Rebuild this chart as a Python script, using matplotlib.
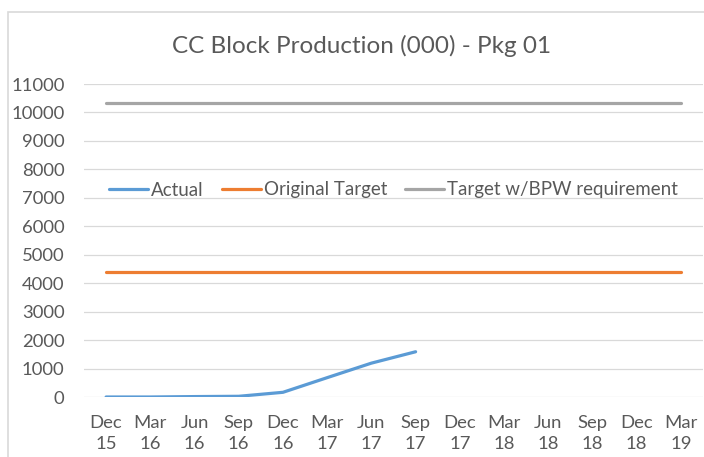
import matplotlib.pyplot as plt
from matplotlib.patches import Rectangle

quarters = ["Dec\n15", "Mar\n16", "Jun\n16", "Sep\n16", "Dec\n16", "Mar\n17", "Jun\n17",
            "Sep\n17", "Dec\n17", "Mar\n18", "Jun\n18", "Sep\n18", "Dec\n18", "Mar\n19"]
actual = [0, 0, 15, 25, 165, 680, 1190, 1590]
original_target = [4400] * len(quarters)
bpw_target = [10330] * len(quarters)

TEXT = "#595959"
GRID = "#D9D9D9"

plt.rcParams["font.family"] = ["Lato", "DejaVu Sans"]

fig = plt.figure(figsize=(7.04, 4.57), dpi=100)
ax = fig.add_axes([84 / 704, 1 - 397 / 457, (703 - 84) / 704, (397 - 84) / 457])

x = list(range(len(quarters)))
ax.plot(x[:len(actual)], actual, color="#5B9BD5", lw=2.3, label="Actual",
        solid_capstyle="round")
ax.plot(x, original_target, color="#ED7D31", lw=2.3, label="Original Target",
        solid_capstyle="round")
ax.plot(x, bpw_target, color="#A5A5A5", lw=2.3, label="Target w/BPW requirement",
        solid_capstyle="round")

ax.set_xlim(-0.5, len(quarters) - 0.5)
ax.set_ylim(0, 11000)
ax.set_yticks(range(0, 11001, 1000))
ax.set_xticks(x)
ax.set_xticklabels(quarters, linespacing=1.4)
ax.yaxis.grid(True, color=GRID, lw=0.9)
ax.set_axisbelow(True)
for s in ax.spines.values():
    s.set_visible(False)
ax.tick_params(length=0, colors=TEXT, labelsize=13.3)
ax.tick_params(axis="x", pad=13)
ax.tick_params(axis="y", pad=14)

leg = ax.legend(loc="center", bbox_to_anchor=(0.5, 1 - (190 - 84) / (397 - 84)),
                ncol=3, frameon=False, fontsize=13.5, handlelength=2.1,
                handletextpad=0.15, columnspacing=0.95, labelcolor=TEXT)

fig.text(362 / 704, 1 - 46 / 457, "CC Block Production (000) - Pkg 01",
         ha="center", va="center", fontsize=17.5, color=TEXT)

fig.patches.append(Rectangle((8 / 704, -0.1), 1.2, 1 - 12 / 457 + 0.1,
                             transform=fig.transFigure, fill=False,
                             ec="#D9D9D9", lw=1.2))

fig.savefig("out.png", dpi=100)
